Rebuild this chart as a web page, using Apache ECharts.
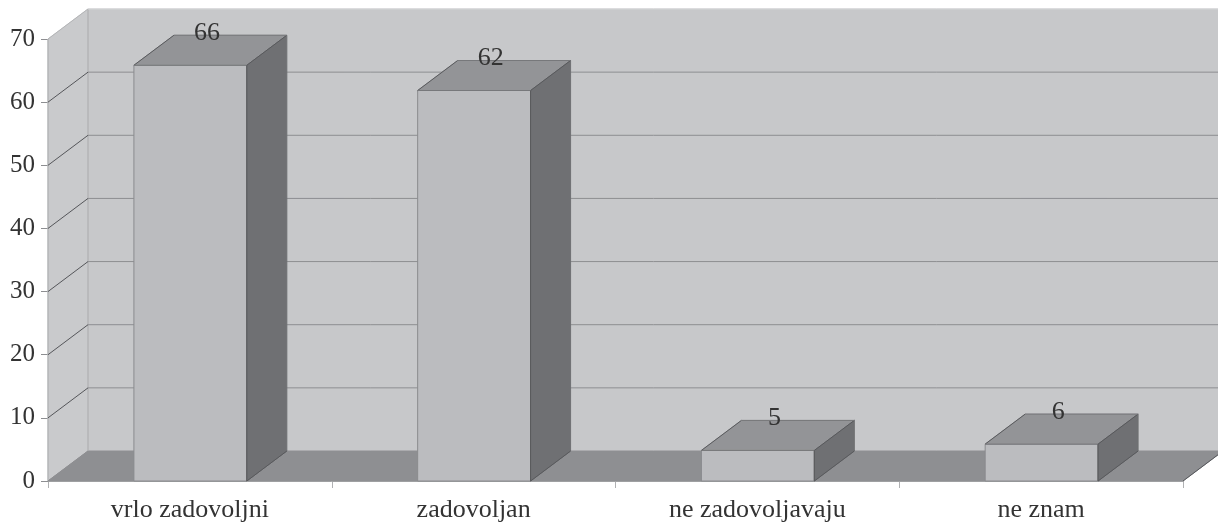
<!DOCTYPE html>
<html>
<head>
<meta charset="utf-8">
<title>chart</title>
<style>
  html, body { margin: 0; padding: 0; background: #fff; }
  #main { width: 1218px; height: 525px; }
</style>
<script src="https://cdn.jsdelivr.net/npm/echarts@6/dist/echarts.min.js"></script>
</head>
<body>
<div id="main"></div>
<script>
const categories = ['vrlo zadovoljni', 'zadovoljan', 'ne zadovoljavaju', 'ne znam']
const values = [66, 62, 5, 6]
const yTicks = [0, 10, 20, 30, 40, 50, 60, 70]

// 3d look: how far the back wall sits from the front plane
const depthX = 40
const depthY = -30
const wallOverflow = 60

const fontFamily = '"Liberation Serif", "Times New Roman", serif'

const myChart = echarts.init(document.getElementById('main'))

function poly (points, fill, stroke, width) {
  return {
    type: 'polygon',
    shape: { points: points },
    style: { fill: fill, stroke: stroke || fill, lineWidth: width || 1 }
  }
}

function line (a, b, color, width) {
  return {
    type: 'line',
    shape: { x1: a[0], y1: a[1], x2: b[0], y2: b[1] },
    style: { stroke: color, lineWidth: width || 1 }
  }
}

function back (p) {
  return [p[0] + depthX, p[1] + depthY]
}

function renderWalls (params, api) {
  const rect = params.coordSys
  const left = rect.x
  const right = rect.x + rect.width
  const y0 = api.coord([0, 0])[1]
  const yMax = api.coord([0, yTicks[yTicks.length - 1]])[1]
  const children = [
    // back wall
    poly([back([left, yMax]), [right + wallOverflow, yMax + depthY], [right + wallOverflow, y0 + depthY], back([left, y0])], '#c7c8ca'),
    // side wall
    poly([[left, yMax], back([left, yMax]), back([left, y0]), [left, y0]], '#c9cacc'),
    // floor
    poly([[left, y0], back([left, y0]), [right + depthX, y0 + depthY], [right, y0]], '#8e8f92'),
    line([left, yMax], [left, y0], '#a9aaac'),
    line(back([left, yMax]), back([left, y0]), '#a9aaac'),
    line([left, yMax], back([left, yMax]), '#b4b5b7'),
    line(back([left, yMax]), [right + wallOverflow, yMax + depthY], '#d4d5d6')
  ]
  yTicks.forEach(function (t) {
    if (t === 0 || t === yTicks[yTicks.length - 1]) return
    const y = api.coord([0, t])[1]
    children.push(line([left, y], back([left, y]), '#55565a'))
    children.push(line(back([left, y]), [right + wallOverflow, y + depthY], '#8d8e91'))
  })
  children.push(line([left, y0], back([left, y0]), '#8e8f92'))
  children.push(line([right, y0], [right + depthX, y0 + depthY], '#55565a'))
  return { type: 'group', children: children }
}

function renderBar (params, api) {
  const c = api.coord([api.value(0), 0])
  const top = api.coord([api.value(0), api.value(1)])
  const w = api.size([1, 0])[0] * 0.398
  const x1 = c[0] - w / 2 + 0.5
  const x2 = c[0] + w / 2 + 0.5
  const y0 = c[1]
  const y1 = top[1] + 1
  const edge = '#58595c'
  return {
    type: 'group',
    children: [
      poly([[x1, y0], [x1, y1], [x2, y1], [x2, y0]], '#bbbcbf', '#8a8b8e'),
      poly([[x1, y1], back([x1, y1]), back([x2, y1]), [x2, y1]], '#939497'),
      poly([[x2, y1], back([x2, y1]), back([x2, y0]), [x2, y0]], '#6f7073'),
      line([x1, y1], back([x1, y1]), edge),
      line([x2, y1], back([x2, y1]), edge),
      line([x2, y0], back([x2, y0]), edge),
      line(back([x1, y1]), back([x2, y1]), '#77787b'),
      line([x1, y1], [x2, y1], '#77787b'),
      line([x2, y1], [x2, y0], edge),
      {
        type: 'text',
        style: {
          text: String(api.value(1)),
          x: c[0] + depthX / 2 - 3,
          y: y1 + depthY - 2,
          align: 'center',
          verticalAlign: 'middle',
          font: '26px ' + fontFamily,
          fill: '#333'
        }
      }
    ]
  }
}

const option = {
  animation: false,
  backgroundColor: '#fff',
  grid: { left: 48, right: 35, top: 39, bottom: 44 },
  xAxis: {
    type: 'category',
    data: categories,
    boundaryGap: true,
    axisLine: { show: true, lineStyle: { color: '#b0b1b3', width: 1 } },
    axisTick: { show: true, alignWithLabel: false, length: 7, lineStyle: { color: '#b0b1b3' } },
    axisLabel: { interval: 0, margin: 16, color: '#333', fontSize: 26, fontFamily: fontFamily }
  },
  yAxis: {
    type: 'value',
    min: 0,
    max: 70,
    interval: 10,
    axisLine: { show: false },
    axisTick: { show: true, length: 7, lineStyle: { color: '#8d8e91' } },
    axisLabel: { margin: 13, color: '#333', fontSize: 25, fontFamily: fontFamily },
    splitLine: { show: false }
  },
  series: [
    {
      type: 'custom',
      name: 'walls',
      silent: true,
      clip: false,
      z: 1,
      renderItem: renderWalls,
      data: [[0, 0]]
    },
    {
      type: 'custom',
      name: 'bars',
      clip: false,
      z: 2,
      renderItem: renderBar,
      encode: { x: 0, y: 1 },
      data: values.map(function (v, i) { return [i, v] })
    }
  ]
}

myChart.setOption(option)
</script>
</body>
</html>
